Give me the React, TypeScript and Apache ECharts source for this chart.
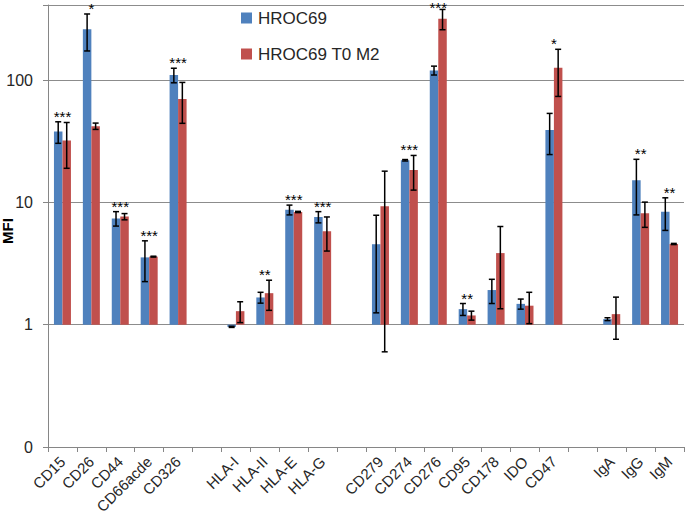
import React, { useEffect, useRef } from "react";
import * as echarts from "echarts";

const categories = ["CD15", "CD26", "CD44", "CD66acde", "CD326", "", "HLA-I", "HLA-II", "HLA-E", "HLA-G", "", "CD279", "CD274", "CD276", "CD95", "CD178", "IDO", "CD47", "", "IgA", "IgG", "IgM"];

const hroc69 = [38, 260, 7.4, 3.55, 110, null, 0.96, 1.67, 8.7, 7.6, null, 4.55, 22.1, 120, 1.34, 1.92, 1.48, 39, null, 1.11, 15.2, 8.4];
const hroc69Err = [7.6, 87, 1.0, 1.3, 15, null, 0.01, 0.17, 0.8, 0.8, null, 3.3, 0.3, 10, 0.15, 0.43, 0.14, 14.4, null, 0.03, 7.3, 2.5];

const t0m2 = [32, 42, 7.65, 3.6, 70, null, 1.29, 1.81, 8.35, 5.8, null, 9.3, 18.4, 318, 1.19, 3.85, 1.43, 126, null, 1.22, 8.15, 4.57];
const t0m2Err = [13, 2.5, 0.45, 0.03, 25.7, null, 0.25, 0.5, 0.1, 1.8, null, 8.7, 5.8, 60, 0.1, 2.5, 0.41, 52.5, null, 0.46, 1.9, 0.05];

const significance = ["***", "*", "***", "***", "***", "", "", "**", "***", "***", "", "", "***", "***", "**", "", "", "*", "", "", "**", "**"];

const yTickLabels: Record<string, string> = { "0.1": "0", "1": "1", "10": "10", "100": "100" };

const BLUE = "#4F81BD";
const RED = "#C0504D";
const FONT = "Liberation Sans";
const BAR_W = 8.5;
const AXIS_MIN = 0.1;

function errData(vals: (number | null)[], errs: (number | null)[]) {
  const out: number[][] = [];
  vals.forEach((v, i) => {
    const e = errs[i];
    if (v == null || e == null) return;
    out.push([i, Math.max(v - e, AXIS_MIN), v + e]);
  });
  return out;
}

function sigData() {
  const out: number[][] = [];
  significance.forEach((s, i) => {
    if (!s) return;
    const a = (hroc69[i] ?? 0) + (hroc69Err[i] ?? 0);
    const b = (t0m2[i] ?? 0) + (t0m2Err[i] ?? 0);
    out.push([i, Math.max(a, b)]);
  });
  return out;
}

function errRenderer(sign: number) {
  return (params: any, api: any) => {
    const i = api.value(0);
    const pLo = api.coord([i, api.value(1)]);
    const pHi = api.coord([i, api.value(2)]);
    const x = pLo[0] + (sign * BAR_W) / 2;
    const cap = 3;
    const style = { stroke: "#000", lineWidth: 1.5 };
    return {
      type: "group",
      children: [
        { type: "line", shape: { x1: x, y1: pLo[1], x2: x, y2: pHi[1] }, style },
        { type: "line", shape: { x1: x - cap, y1: pHi[1], x2: x + cap, y2: pHi[1] }, style },
        { type: "line", shape: { x1: x - cap, y1: pLo[1], x2: x + cap, y2: pLo[1] }, style },
      ],
    };
  };
}

export default function App() {
  const ref = useRef<HTMLDivElement>(null);
  useEffect(() => {
    if (!ref.current) return;
    const chart = echarts.init(ref.current, undefined, { renderer: "svg" });
    const option: any = {
      animation: false,
      backgroundColor: "#ffffff",
      textStyle: { fontFamily: FONT },
      grid: { left: 48, right: 1, top: 5, bottom: 67, containLabel: false, outerBoundsMode: "none" },
      legend: {
        orient: "vertical",
        left: 241,
        top: 9,
        padding: 0,
        itemWidth: 11,
        itemHeight: 11,
        itemGap: 18,
        icon: "rect",
        data: ["HROC69", "HROC69 T0 M2"],
        textStyle: { fontFamily: FONT, fontSize: 17, color: "#262626", lineHeight: 18, padding: [0, 0, 0, 1] },
      },
      xAxis: {
        type: "category",
        data: categories,
        axisLine: { lineStyle: { color: "#868686", width: 1 } },
        axisTick: { show: true, alignWithLabel: false, interval: 0, length: 5, lineStyle: { color: "#868686" } },
        axisLabel: { interval: 0, rotate: 45, fontFamily: FONT, fontSize: 15, color: "#262626", margin: 12 },
        splitLine: { show: false },
      },
      yAxis: {
        type: "log",
        logBase: 10,
        min: AXIS_MIN,
        max: 411,
        axisLine: { show: true, lineStyle: { color: "#868686", width: 1 } },
        axisTick: { show: true, length: 5, lineStyle: { color: "#868686" } },
        axisLabel: {
          fontFamily: FONT,
          fontSize: 16,
          color: "#262626",
          margin: 15,
          formatter: (v: number) => {
            const key = v < 0.5 ? "0.1" : String(Math.round(v));
            return yTickLabels[key] ?? "";
          },
        },
        splitLine: { show: true, lineStyle: { color: "#8c8c8c", width: 1 } },
      },
      graphic: [
        {
          type: "text",
          x: 7,
          y: 231,
          rotation: Math.PI / 2,
          style: { text: "MFI", font: `bold 15px "${FONT}"`, fill: "#000", align: "center", verticalAlign: "middle" },
        },
      ],
      series: [
        {
          name: "HROC69",
          type: "bar",
          data: hroc69,
          barWidth: BAR_W,
          barGap: "0%",
          itemStyle: { color: BLUE },
        },
        {
          name: "HROC69 T0 M2",
          type: "bar",
          data: t0m2,
          barWidth: BAR_W,
          barGap: "0%",
          itemStyle: { color: RED },
        },
        {
          type: "custom",
          name: "errBlue",
          data: errData(hroc69, hroc69Err),
          encode: { x: 0, y: [1, 2] },
          renderItem: errRenderer(-1),
          z: 5,
          silent: true,
        },
        {
          type: "custom",
          name: "errRed",
          data: errData(t0m2, t0m2Err),
          encode: { x: 0, y: [1, 2] },
          renderItem: errRenderer(1),
          z: 5,
          silent: true,
        },
        {
          type: "custom",
          name: "sig",
          data: sigData(),
          encode: { x: 0, y: 1 },
          clip: false,
          renderItem: (params: any, api: any) => {
            const i = api.value(0);
            const p = api.coord([i, api.value(1)]);
            return {
              type: "text",
              x: p[0],
              y: Math.max(p[1] - 13, 0),
              style: {
                text: significance[i],
                font: `15px "${FONT}"`,
                fill: "#000",
                align: "center",
                verticalAlign: "top",
              },
            };
          },
          z: 6,
          silent: true,
        },
      ],
    };
    chart.setOption(option);
    return () => chart.dispose();
  }, []);
  return (
    <div
      ref={ref}
      style={{ position: "fixed", left: 0, top: 0, width: 685, height: 514, background: "#fff" }}
    />
  );
}
